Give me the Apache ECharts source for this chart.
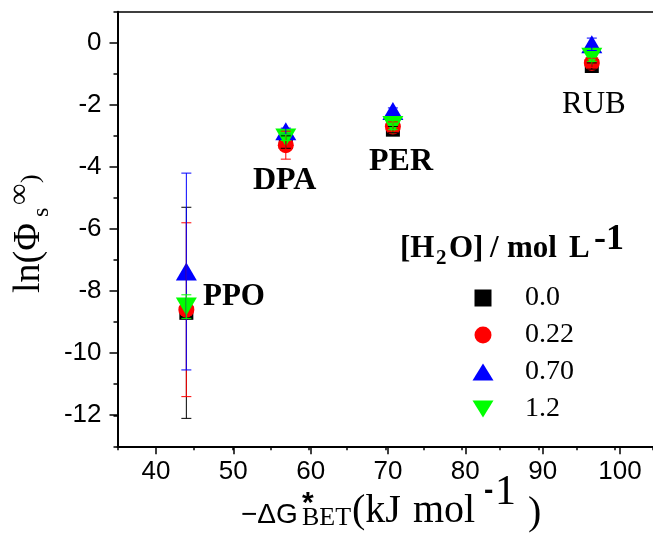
<!DOCTYPE html>
<html>
<head>
<meta charset="utf-8">
<script src="https://cdn.jsdelivr.net/npm/echarts@6/dist/echarts.min.js"></script>
<style>
  html, body { margin: 0; padding: 0; background: #fff; }
  #chart { width: 653px; height: 542px; }
</style>
</head>
<body>
<div id="chart"></div>
<script>
// -ΔG*BET (kJ/mol) of the four compounds
const compounds = ['PPO', 'DPA', 'PER', 'RUB'];
const dG = [44, 57, 71, 97];

// [H2O] / mol L-1 levels
const waterLevels = ['0.0', '0.22', '0.70', '1.2'];

// ln(Phi_s inf) for each water level, same order as compounds
const lnPhi_00 = [-8.7, -3.2, -2.8, -0.75];
const lnPhi_22 = [-8.6, -3.3, -2.7, -0.65];
const lnPhi_70 = [-7.37, -2.85, -2.2, -0.05];
const lnPhi_12 = [-8.5, -3.05, -2.65, -0.45];

// error bars (half width)
const err_00 = [3.4, 0.2, 0.1, 0.1];
const err_22 = [2.8, 0.45, 0.15, 0.15];
const err_70 = [3.17, 0.1, 0.1, 0.2];
const err_12 = [0.38, 0.1, 0.15, 0.15];

const SERIF = '"Liberation Serif", "Times New Roman", serif';
const SANS = '"Liberation Sans", Arial, sans-serif';

let myCharts = echarts.init(document.getElementById('chart'));

// text piece placed by its baseline
function txt(text, x, base, size, family, weight) {
  return {
    type: 'text', x: x, y: base - 0.34 * size, silent: true,
    style: {
      text: text, fontSize: size, fontFamily: family, fontWeight: weight || 'normal',
      fill: '#000', align: 'left', verticalAlign: 'middle'
    }
  };
}

// error bar drawing
function errBars(color) {
  return function (params, api) {
    const x = api.value(0), y = api.value(1), e = api.value(2);
    const top = api.coord([x, y + e]);
    const bot = api.coord([x, y - e]);
    const hw = 5;
    const style = { stroke: color, lineWidth: 1 };
    return {
      type: 'group',
      children: [
        { type: 'line', shape: { x1: top[0], y1: top[1], x2: bot[0], y2: bot[1] }, style: style },
        { type: 'line', shape: { x1: top[0] - hw, y1: top[1], x2: top[0] + hw, y2: top[1] }, style: style },
        { type: 'line', shape: { x1: bot[0] - hw, y1: bot[1], x2: bot[0] + hw, y2: bot[1] }, style: style }
      ]
    };
  };
}

const groups = [
  { name: waterLevels[0], ys: lnPhi_00, errs: err_00, color: '#000000', symbol: 'rect', size: 14, rotate: 0,
    icon: 'path://M0,0L10,0L10,10L0,10Z' },
  { name: waterLevels[1], ys: lnPhi_22, errs: err_22, color: '#ff0000', symbol: 'circle', size: 16, rotate: 0,
    icon: 'circle' },
  { name: waterLevels[2], ys: lnPhi_70, errs: err_70, color: '#0000ff', symbol: 'triangle', size: [21, 18], rotate: 0,
    icon: 'path://M10.5,0L21,17L0,17Z' },
  { name: waterLevels[3], ys: lnPhi_12, errs: err_12, color: '#00ff00', symbol: 'triangle', size: [21, 18], rotate: 180,
    icon: 'path://M0,0L21,0L10.5,17Z' }
];

let series = [];
groups.forEach(function (g, k) {
  series.push({
    name: g.name,
    type: 'scatter',
    xAxisIndex: 0, yAxisIndex: 0,
    symbol: g.symbol,
    symbolSize: g.size,
    symbolRotate: g.rotate,
    itemStyle: { color: g.color, opacity: 1 },
    z: 2 + k,
    silent: true,
    data: dG.map(function (x, i) { return [x, g.ys[i]]; })
  });
});
groups.forEach(function (g, k) {
  series.push({
    name: 'err' + g.name,
    type: 'custom',
    xAxisIndex: 0, yAxisIndex: 0,
    renderItem: errBars(g.color),
    encode: { x: 0, y: 1 },
    z: 10 + k,
    silent: true,
    data: dG.map(function (x, i) { return [x, g.ys[i], g.errs[i]]; })
  });
});

const lineStyle = { color: '#000', width: 2 };
const tickStyle = { color: '#000', width: 1.5 };
const labelStyle = { color: '#000', fontSize: 26, fontFamily: SANS };

let option = {
  animation: false,
  backgroundColor: '#fff',
  grid: [
    { left: 117.5, top: 11.7, width: 541.3, height: 434.6 },   // main plot
    { left: 156, top: 11.7, width: 464, height: 434.6 },       // major x ticks 40..100
    { left: 117.5, top: 42.7, width: 541.3, height: 372.5 }    // major y ticks -12..0
  ],
  xAxis: [
    { type: 'value', gridIndex: 0, min: 35, max: 105, interval: 5,
      axisLine: { onZero: false, lineStyle: lineStyle },
      axisTick: { length: 4, lineStyle: tickStyle },
      axisLabel: { show: false }, splitLine: { show: false } },
    { type: 'value', gridIndex: 1, min: 40, max: 100, interval: 10,
      axisLine: { show: false, onZero: false },
      axisTick: { length: 8, lineStyle: tickStyle },
      axisLabel: Object.assign({ margin: 13 }, labelStyle), splitLine: { show: false } },
    { type: 'value', gridIndex: 2, min: 35, max: 105, show: false },
    { type: 'value', gridIndex: 0, min: 35, max: 105, position: 'top',
      axisLine: { onZero: false, lineStyle: { color: '#000', width: 1.5 } },
      axisTick: { show: false }, axisLabel: { show: false }, splitLine: { show: false } }
  ],
  yAxis: [
    { type: 'value', gridIndex: 0, min: -13, max: 1, interval: 1,
      axisLine: { show: true, onZero: false, lineStyle: lineStyle },
      axisTick: { show: true, length: 4, lineStyle: tickStyle },
      axisLabel: { show: false }, splitLine: { show: false } },
    { type: 'value', gridIndex: 1, min: -13, max: 1, show: false },
    { type: 'value', gridIndex: 2, min: -12, max: 0, interval: 2,
      axisLine: { show: false, onZero: false },
      axisTick: { show: true, length: 8, lineStyle: tickStyle },
      axisLabel: Object.assign({ margin: 16 }, labelStyle), splitLine: { show: false } }
  ],
  legend: {
    orient: 'vertical',
    left: 472.5, top: 284,
    padding: 0,
    itemWidth: 21, itemHeight: 17, itemGap: 9,
    selectedMode: false,
    data: groups.map(function (g) { return { name: g.name, icon: g.icon }; }),
    textStyle: { color: '#000', fontSize: 28, fontFamily: SERIF, lineHeight: 28, padding: [0, 0, 0, 26.5] }
  },
  graphic: [
    // compound labels
    txt(compounds[0], 203, 308, 31, SERIF, 'bold'),
    txt(compounds[1], 253, 192, 32, SERIF, 'bold'),
    txt(compounds[2], 369, 173, 32, SERIF, 'bold'),
    txt(compounds[3], 562, 115, 31, SERIF, 'normal'),
    // legend title [H2O] / mol L-1
    txt('[H', 400, 260, 31, SERIF, 'bold'),
    txt('2', 436, 266, 21, SERIF, 'bold'),
    txt('O]', 449, 260, 31, SERIF, 'bold'),
    txt('/', 490, 260, 31, SERIF, 'bold'),
    txt('mol', 507, 260, 31, SERIF, 'bold'),
    txt('L', 569, 260, 31, SERIF, 'bold'),
    txt('-1', 594, 252, 36, SERIF, 'bold'),
    // x axis title
    txt('\u2212\u0394G', 241, 525, 28, SANS),
    txt('*', 302, 514, 30, SANS, 'bold'),
    txt('BET', 302, 527, 26, SERIF),
    txt('(kJ', 352, 525, 40, SERIF),
    txt('mol', 413, 525, 40, SERIF),
    txt('-', 484, 501, 28, SANS, 'bold'),
    txt('1', 495, 507, 42, SERIF),
    txt(')', 528, 527, 40, SERIF),
    // y axis title, rotated
    {
      type: 'group', x: 42, y: 293, rotation: Math.PI / 2,
      children: [
        txt('ln(\u03A6', 0, 0, 38, SERIF),
        txt('s', 76, 8, 24, SERIF),
        txt('\u221E', 88, -12, 30, SERIF),
        txt(')', 110, -2, 26, SERIF)
      ]
    }
  ],
  series: series
};

myCharts.setOption(option);
</script>
</body>
</html>
